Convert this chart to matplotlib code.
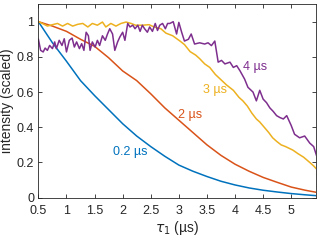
import numpy as np
import matplotlib
matplotlib.use("Agg")
import matplotlib.pyplot as plt

plt.rcParams['font.family'] = ['Liberation Sans', 'DejaVu Sans']
plt.rcParams['mathtext.fontset'] = 'dejavusans'

# 0.2 us
t_blue = [0.5, 0.75, 1.0, 1.25, 1.5, 1.75, 2.0, 2.25, 2.5, 2.75, 3.0, 3.25, 3.5,
          3.75, 4.0, 4.25, 4.5, 4.75, 5.0, 5.25, 5.45]
y_blue = [1.0, 0.88, 0.775, 0.665, 0.58, 0.50, 0.42, 0.35, 0.29, 0.235, 0.185,
          0.15, 0.12, 0.093, 0.072, 0.055, 0.042, 0.032, 0.023, 0.016, 0.011]

# 2 us
t_red = t_blue
y_red = [1.0, 0.975, 0.945, 0.90, 0.86, 0.795, 0.72, 0.665, 0.59, 0.51, 0.44,
         0.37, 0.30, 0.24, 0.19, 0.15, 0.115, 0.087, 0.06, 0.042, 0.03]

# 3 us
t_yel = [0.50, 0.57, 0.66, 0.75, 0.84, 0.93, 1.02, 1.11, 1.20, 1.29, 1.38, 1.46,
         1.55, 1.64, 1.70, 1.79, 1.88, 1.97, 2.06, 2.15, 2.23, 2.35, 2.47, 2.56,
         2.68, 2.77, 2.89, 3.02, 3.10, 3.20, 3.30, 3.37, 3.46, 3.55, 3.65, 3.75,
         3.85, 3.97, 4.07, 4.14, 4.22, 4.30, 4.38, 4.44, 4.52, 4.60, 4.67, 4.74,
         4.82, 4.90, 5.03, 5.12, 5.22, 5.33, 5.40, 5.45]
y_yel = [1.0, 0.99, 0.975, 0.983, 0.99, 0.975, 0.99, 0.975, 0.985, 0.99, 0.97, 0.99,
         0.98, 0.998, 0.97, 0.99, 0.975, 0.99, 0.998, 0.99, 0.98, 0.98, 0.983, 0.97,
         0.96, 0.935, 0.92, 0.89, 0.87, 0.83, 0.81, 0.79, 0.76, 0.74, 0.70, 0.67,
         0.64, 0.61, 0.57, 0.55, 0.52, 0.48, 0.447, 0.43, 0.40, 0.37, 0.34, 0.32,
         0.30, 0.29, 0.27, 0.25, 0.23, 0.20, 0.18, 0.163]

# 4 us
t_pur = [0.50, 0.54, 0.585, 0.62, 0.66, 0.70, 0.75, 0.79, 0.82, 0.87, 0.92, 0.96,
         1.00, 1.05, 1.10, 1.14, 1.18, 1.23, 1.27, 1.31, 1.35, 1.39, 1.42, 1.46,
         1.51, 1.55, 1.59, 1.64, 1.69, 1.73, 1.77, 1.82, 1.86, 1.91, 1.95, 2.00,
         2.04, 2.09, 2.13, 2.18, 2.22, 2.27, 2.31, 2.35, 2.39, 2.44, 2.48, 2.53,
         2.58, 2.62, 2.66, 2.71, 2.76, 2.80, 2.84, 2.90, 2.96, 3.00, 3.05, 3.10,
         3.17, 3.22, 3.28, 3.37, 3.46, 3.52, 3.58, 3.64, 3.70, 3.76, 3.82, 3.91,
         3.97, 4.03, 4.09, 4.17, 4.23, 4.32, 4.38, 4.44, 4.50, 4.56, 4.62, 4.68,
         4.74, 4.80, 4.86, 4.92, 5.00, 5.06, 5.15, 5.24, 5.33, 5.40, 5.45]
y_pur = [0.90, 0.837, 0.828, 0.85, 0.837, 0.865, 0.847, 0.885, 0.847, 0.894, 0.865, 0.903,
         0.828, 0.894, 0.907, 0.856, 0.885, 0.847, 0.875, 0.837, 0.94, 0.92, 0.837, 0.885,
         0.856, 0.894, 0.865, 0.92, 0.894, 0.93, 0.96, 0.93, 0.837, 0.885, 0.913, 0.94,
         0.894, 0.99, 0.97, 0.98, 0.96, 0.98, 0.945, 0.98, 0.96, 0.94, 0.97, 0.945,
         0.99, 0.95, 0.98, 0.99, 0.96, 0.99, 0.99, 1.0, 0.93, 0.996, 0.94, 0.89,
         0.90, 0.93, 0.873, 0.88, 0.873, 0.88, 0.864, 0.89, 0.77, 0.78, 0.76, 0.77,
         0.74, 0.75, 0.72, 0.674, 0.627, 0.60, 0.55, 0.61, 0.56, 0.54, 0.51, 0.49,
         0.466, 0.455, 0.447, 0.466, 0.41, 0.36, 0.34, 0.35, 0.31, 0.29, 0.24]

labels = ['0.2 µs', '2 µs', '3 µs', '4 µs']
label_pos = [(2.13, 0.26), (3.2, 0.47), (3.64, 0.61), (4.35, 0.74)]
colors = ['#0072BD', '#D95319', '#EDB120', '#7E2F8E']

fig = plt.figure(figsize=(3.2, 2.41), dpi=100)
ax = fig.add_axes([0.120, 0.180, 0.869, 0.803])

series = [(t_blue, y_blue), (t_red, y_red), (t_yel, y_yel), (t_pur, y_pur)]
for (t, y), c in zip(series, colors):
    ax.plot(t, y, color=c, lw=1.1)

for lab, (x, y), c in zip(labels, label_pos, colors):
    ax.text(x, y, lab, color=c, fontsize=9, ha='center', va='center')

ax.set_xlim(0.5, 5.45)
ax.set_ylim(0, 1.1)
ax.set_xticks(np.arange(0.5, 5.01, 0.5))
ax.set_xticklabels(['0.5', '1', '1.5', '2', '2.5', '3', '3.5', '4', '4.5', '5'])
ax.set_yticks([0, 0.2, 0.4, 0.6, 0.8, 1])
ax.set_yticklabels(['0', '0.2', '0.4', '0.6', '0.8', '1'])
ax.tick_params(direction='in', top=True, right=True, length=3, width=0.6,
               labelsize=9, colors='#262626')
ax.tick_params(axis='x', pad=5)
ax.tick_params(axis='y', pad=3)
for s in ax.spines.values():
    s.set_linewidth(0.6)
    s.set_color('#262626')

ax.set_xlabel(r'$\tau_1$ (µs)', fontsize=10, color='#262626', labelpad=2)
ax.set_ylabel('intensity (scaled)', fontsize=10, color='#262626', labelpad=2)

fig.savefig('out.png', dpi=100)
